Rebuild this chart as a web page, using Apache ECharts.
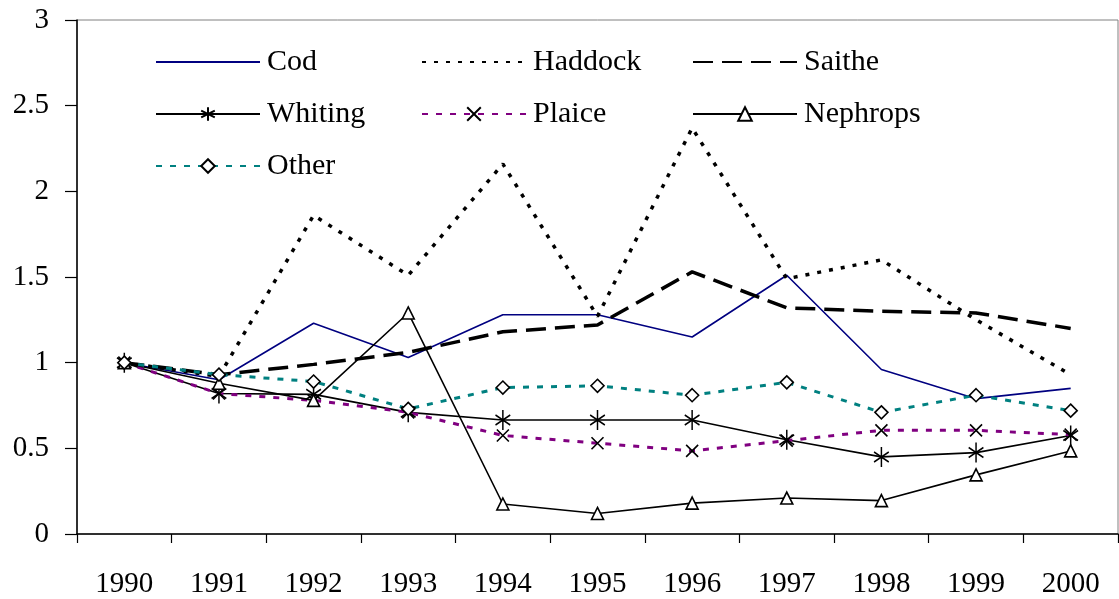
<!DOCTYPE html>
<html>
<head>
<meta charset="utf-8">
<script src="https://cdn.jsdelivr.net/npm/echarts@6/dist/echarts.min.js"></script>
<style>
html,body{margin:0;padding:0;background:#fff;}
#chart{width:1119px;height:599px;}
</style>
</head>
<body>
<div id="chart"></div>
<script>
const years = ['1990','1991','1992','1993','1994','1995','1996','1997','1998','1999','2000'];
const cod      = [1.00, 0.90, 1.23, 1.03, 1.28, 1.28, 1.15, 1.51, 0.96, 0.79, 0.85];
const haddock  = [1.00, 0.92, 1.86, 1.51, 2.16, 1.27, 2.37, 1.49, 1.60, 1.25, 0.93];
const saithe   = [1.00, 0.93, 0.99, 1.06, 1.18, 1.22, 1.53, 1.32, 1.30, 1.29, 1.20];
const whiting  = [1.00, 0.82, 0.815, 0.71, 0.665, 0.665, 0.665, 0.55, 0.45, 0.475, 0.575];
const plaice   = [1.00, 0.82, 0.78, 0.71, 0.575, 0.53, 0.485, 0.545, 0.605, 0.605, 0.58];
const nephrops = [1.00, 0.88, 0.78, 1.29, 0.175, 0.12, 0.18, 0.21, 0.195, 0.345, 0.485];
const other    = [1.00, 0.93, 0.89, 0.73, 0.855, 0.865, 0.81, 0.885, 0.71, 0.81, 0.72];
const yTicks = [0, 0.5, 1, 1.5, 2, 2.5, 3];

const FONT = '"Liberation Serif", "Times New Roman", serif';
const asterisk = 'path://M0,-10 L0,10 M-8.66,-5 L8.66,5 M-8.66,5 L8.66,-5';
const cross = 'path://M-5,-5 L5,5 M-5,5 L5,-5';
const markerStyle = {color: '#fff', borderColor: '#000', borderWidth: 1.6};
const hiddenMarker = {color: 'transparent', borderColor: 'transparent', borderWidth: 0};

const chart = echarts.init(document.getElementById('chart'), null, {renderer: 'canvas'});

function legendCol(left, names) {
  return {
    orient: 'vertical',
    left: left,
    top: 47,
    padding: 0,
    itemWidth: 104,
    itemHeight: 17,
    itemGap: 22,
    data: names,
    selectedMode: false,
    textStyle: {fontFamily: FONT, fontSize: 30, color: '#000', lineHeight: 30, padding: [0,0,0,2]}
  };
}

chart.setOption({
  animation: false,
  backgroundColor: '#fff',
  grid: {left: 77, right: 1, top: 20, bottom: 64, show: true, borderColor: '#808080', borderWidth: 1, backgroundColor: 'transparent'},
  legend: [
    legendCol(155, ['Cod', 'Whiting', 'Other']),
    legendCol(421, ['Haddock', 'Plaice']),
    legendCol(692, ['Saithe', 'Nephrops'])
  ],
  xAxis: {
    type: 'category',
    data: years,
    boundaryGap: true,
    axisLine: {lineStyle: {color: '#000', width: 1.5}},
    axisTick: {show: true, length: 9, inside: false, lineStyle: {color: '#000', width: 1.2}},
    axisLabel: {fontFamily: FONT, fontSize: 29, color: '#000', margin: 36, interval: 0},
    splitLine: {show: false}
  },
  yAxis: {
    type: 'value',
    min: 0, max: 3, interval: 0.5,
    axisLine: {show: true, lineStyle: {color: '#000', width: 1.5}},
    axisTick: {show: true, length: 12, inside: false, lineStyle: {color: '#000', width: 1.2}},
    axisLabel: {fontFamily: FONT, fontSize: 29, color: '#000', margin: 28,
      formatter: v => yTicks.includes(v) ? String(v) : ''},
    splitLine: {show: false}
  },
  series: [
    {name: 'Cod', type: 'line', data: cod, symbol: 'none', showSymbol: false,
      lineStyle: {color: '#000080', width: 1.6, type: 'solid'}, itemStyle: hiddenMarker},
    {name: 'Haddock', type: 'line', data: haddock, symbol: 'none', showSymbol: false,
      lineStyle: {color: '#000', width: 3.5, type: [4, 8]}, itemStyle: hiddenMarker},
    {name: 'Saithe', type: 'line', data: saithe, symbol: 'none', showSymbol: false,
      lineStyle: {color: '#000', width: 3.5, type: [20, 9]}, itemStyle: hiddenMarker},
    {name: 'Whiting', type: 'line', data: whiting, symbol: asterisk, symbolSize: [17, 20], symbolKeepAspect: true,
      lineStyle: {color: '#000', width: 1.6, type: 'solid'}, itemStyle: markerStyle},
    {name: 'Plaice', type: 'line', data: plaice, symbol: cross, symbolSize: 12,
      lineStyle: {color: '#800080', width: 3, type: [6, 8]}, itemStyle: markerStyle},
    {name: 'Nephrops', type: 'line', data: nephrops, symbol: 'triangle', symbolSize: 12,
      lineStyle: {color: '#000', width: 1.6, type: 'solid'}, itemStyle: markerStyle},
    {name: 'Other', type: 'line', data: other, symbol: 'diamond', symbolSize: 13,
      lineStyle: {color: '#008080', width: 3, type: [6, 8]}, itemStyle: markerStyle}
  ]
});
</script>
</body>
</html>
